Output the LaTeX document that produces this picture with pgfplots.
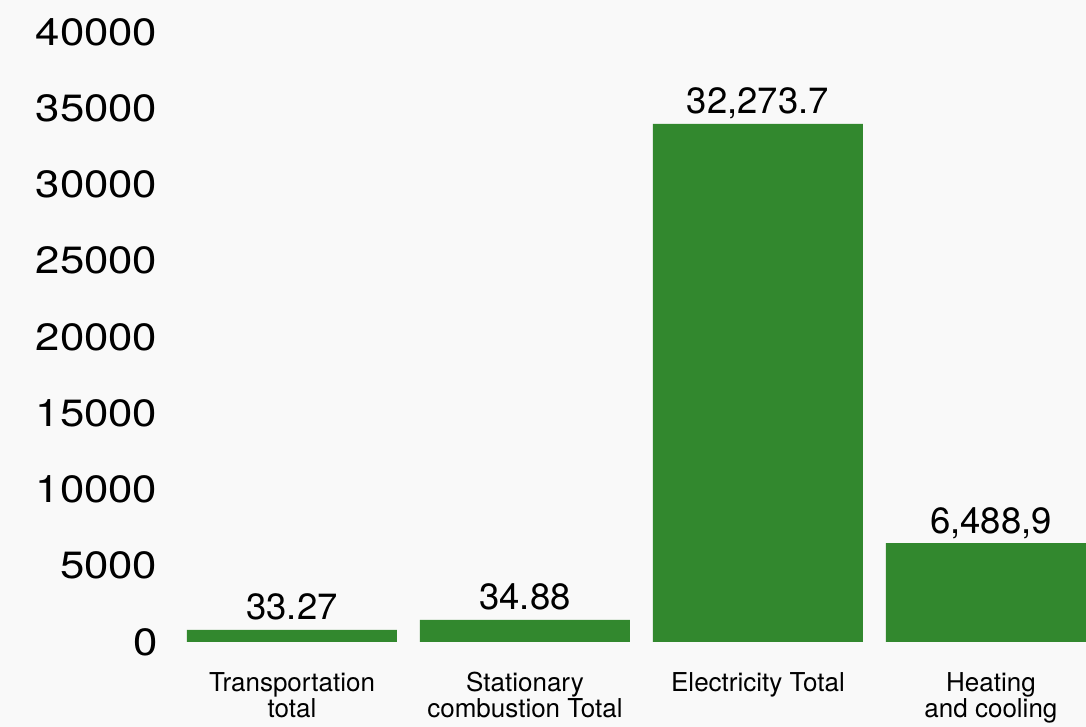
\documentclass[border=0pt]{standalone}
\usepackage{pgfplots}
\pgfplotsset{compat=1.18}
\usepackage{fontspec}
\setmainfont{TeX Gyre Heros}
\newfontfamily\tickfont[FakeStretch=1.15]{TeX Gyre Heros}
\definecolor{barg}{HTML}{32882E}
\definecolor{bg}{HTML}{F9F9F9}
\begin{document}
\begin{tikzpicture}
\fill[bg] (-175.5pt,-85pt) rectangle (910.5pt,642pt);
\useasboundingbox (-175.5pt,-85pt) rectangle (910.5pt,642pt);
\begin{axis}[
  at={(0,0)}, anchor=south west,
  scale only axis, width=910.5pt, height=610pt,
  xmin=-0.5, xmax=3.408, ymin=0, ymax=40000,
  ybar, bar width=210pt, bar shift=0pt,
  axis line style={draw=none}, major tick length=0pt,
  xtick={0,1,2,3},
  xticklabels={{Transportation\\total},{Stationary\\combustion Total},{Electricity Total},{Heating\\and cooling}},
  ytick={0,5000,...,40000},
  scaled y ticks=false,
  /pgf/number format/assume math mode=true,
  /pgf/number format/1000 sep={},
  yticklabel style={font=\tickfont\fontsize{38}{38}\selectfont, anchor=east, inner sep=0pt, xshift=-18pt},
  xticklabel style={font=\fontsize{26}{26}\selectfont, align=center, anchor=north, inner sep=0pt, yshift=-30pt},
  nodes near coords, point meta=explicit symbolic,
  nodes near coords style={font=\fontsize{36.5}{37}\selectfont, anchor=base, inner sep=0pt, yshift=10pt},
]
\addplot[fill=barg, draw=none] table[meta=label] {
x y label
0 787 33.27
1 1443 34.88
2 33967 32,273.7
3 6489 6,488,9
};
\end{axis}
\end{tikzpicture}
\end{document}
